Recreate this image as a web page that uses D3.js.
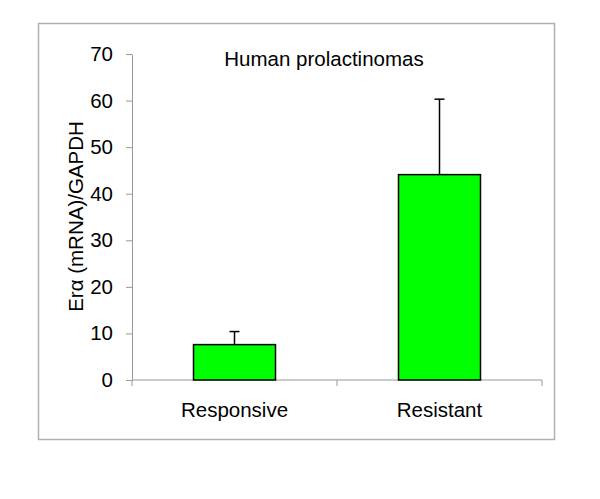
<!DOCTYPE html>
<html>
<head>
<meta charset="utf-8">
<script src="https://cdn.jsdelivr.net/npm/d3@7"></script>
<style>
  body { margin: 0; background: #fff; }
  text { font-family: "Liberation Sans", Arial, sans-serif; fill: #000; }
</style>
</head>
<body>
<div id="chart"></div>
<script>
// Data.
const categories = ['Responsive', 'Resistant'];
const means = [7.6, 44.1];
const errors = [2.8, 16.2];
const yTicks = [0, 10, 20, 30, 40, 50, 60, 70];

const width = 600,
  height = 499;

// Plot area.
const plot = { left: 132, right: 542, top: 54, bottom: 380 };

const svg = d3
  .select('#chart')
  .append('svg')
  .attr('width', width)
  .attr('height', height);

// Outer frame
svg
  .append('rect')
  .attr('x', 38.5)
  .attr('y', 23.5)
  .attr('width', 516)
  .attr('height', 416)
  .attr('fill', 'none')
  .attr('stroke', '#b0b0b0')
  .attr('stroke-width', 1.5);

const y = d3.scaleLinear().domain([0, 70]).range([plot.bottom, plot.top]);

// Y axis
const yAxis = svg
  .append('g')
  .attr('transform', 'translate(' + plot.left + ',0)')
  .call(d3.axisLeft(y).tickValues(yTicks).tickSize(6).tickSizeOuter(0).tickPadding(13));
yAxis.select('.domain').attr('stroke', '#999');
yAxis.selectAll('.tick line').attr('stroke', '#999');
yAxis.selectAll('.tick text').style('font-size', '20.5px').attr('font-family', null);

// X axis, with ticks at category boundaries
const x = d3
  .scalePoint()
  .domain(categories)
  .range([plot.left, plot.right])
  .padding(0.5);
const step = x.step();

const xAxisG = svg.append('g').attr('transform', 'translate(0,' + plot.bottom + ')');
xAxisG
  .append('line')
  .attr('x1', plot.left)
  .attr('x2', plot.right)
  .attr('stroke', '#999');
xAxisG
  .selectAll('.xtick')
  .data([plot.left].concat(categories.map(c => x(c) + step / 2)))
  .join('line')
  .attr('class', 'xtick')
  .attr('x1', d => d)
  .attr('x2', d => d)
  .attr('y1', 0)
  .attr('y2', 6)
  .attr('stroke', '#999');
xAxisG
  .selectAll('.xlab')
  .data(categories)
  .join('text')
  .attr('class', 'xlab')
  .attr('x', d => x(d))
  .attr('y', 37)
  .attr('text-anchor', 'middle')
  .style('font-size', '20.5px')
  .text(d => d);

const barW = 82;

// Error bars (upper only)
svg
  .selectAll('.err')
  .data(means)
  .join('line')
  .attr('class', 'err')
  .attr('x1', (d, i) => x(categories[i]))
  .attr('x2', (d, i) => x(categories[i]))
  .attr('y1', d => y(d))
  .attr('y2', (d, i) => y(d + errors[i]))
  .attr('stroke', '#000')
  .attr('stroke-width', 1.5);
svg
  .selectAll('.cap')
  .data(means)
  .join('line')
  .attr('class', 'cap')
  .attr('x1', (d, i) => x(categories[i]) - 5)
  .attr('x2', (d, i) => x(categories[i]) + 5)
  .attr('y1', (d, i) => y(d + errors[i]))
  .attr('y2', (d, i) => y(d + errors[i]))
  .attr('stroke', '#000')
  .attr('stroke-width', 1.5);

// Bars
svg
  .selectAll('.bar')
  .data(means)
  .join('rect')
  .attr('class', 'bar')
  .attr('x', (d, i) => x(categories[i]) - barW / 2)
  .attr('y', d => y(d))
  .attr('width', barW)
  .attr('height', d => y(0) - y(d))
  .attr('fill', '#00ff00')
  .attr('stroke', '#000')
  .attr('stroke-width', 1.5);

// Title
svg
  .append('text')
  .attr('x', 324)
  .attr('y', 66)
  .attr('text-anchor', 'middle')
  .style('font-size', '20.5px')
  .text('Human prolactinomas');

// Y label
svg
  .append('text')
  .attr('transform', 'translate(83,' + 216.5 + ') rotate(-90)')
  .attr('text-anchor', 'middle')
  .style('font-size', '20.5px')
  .text('Erα (mRNA)/GAPDH');
</script>
</body>
</html>
